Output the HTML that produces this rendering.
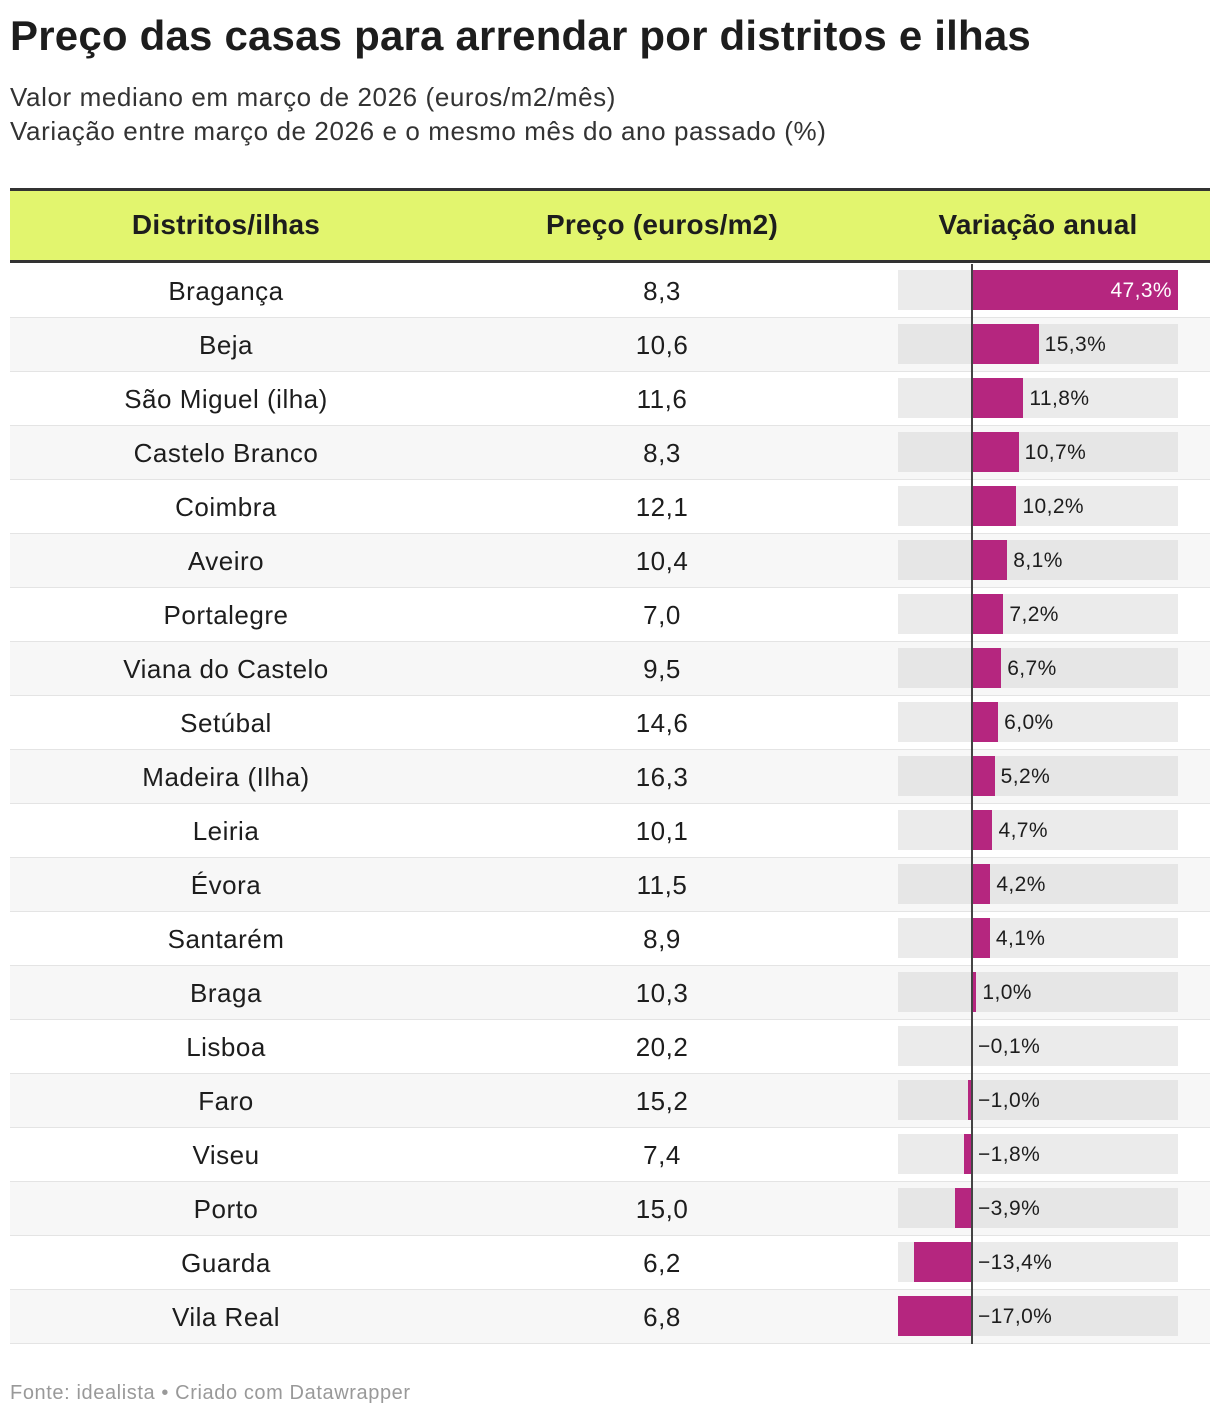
<!DOCTYPE html>
<html><head><meta charset="utf-8"><style>
body{margin:0;width:1220px;height:1418px;background:#fff;font-family:"Liberation Sans",Arial,sans-serif;color:#1d1d1d;position:relative;overflow:hidden}
.t{position:absolute;left:10px;top:12px;font-size:42px;font-weight:bold;letter-spacing:0.2px}
.s{position:absolute;left:10px;font-size:26px;color:#333;letter-spacing:0.6px}
#tbl{position:absolute;left:10px;top:188px;width:1200px}
.hdr{position:absolute;left:0;top:0;width:1200px;height:75px;background:#e2f56e;border-top:3px solid #333;border-bottom:3px solid #333;box-sizing:border-box}
.hdr div{position:absolute;top:18px;font-size:28px;font-weight:bold;transform:translateX(-50%);white-space:nowrap;letter-spacing:0.2px}
.row{position:absolute;left:0;width:1200px;height:54px;border-bottom:1px solid #e4e4e4;box-sizing:border-box}
.cell{position:absolute;top:12px;font-size:26px;transform:translateX(-50%);white-space:nowrap;letter-spacing:0.5px}
.bg{position:absolute;top:6px;height:40px}
.bar{position:absolute;top:6px;height:40px;background:#b5267f}
.lbl{position:absolute;top:15px;font-size:21px;white-space:nowrap;letter-spacing:0.4px}
.foot{position:absolute;left:10px;top:1382px;font-size:20px;color:#999;letter-spacing:0.6px}
</style></head><body>
<div class="t">Preço das casas para arrendar por distritos e ilhas</div>
<div class="s" style="top:82px">Valor mediano em março de 2026 (euros/m2/mês)</div>
<div class="s" style="top:116px">Variação entre março de 2026 e o mesmo mês do ano passado (%)</div>
<div id="tbl">
<div class="hdr">
<div style="left:216px">Distritos/ilhas</div>
<div style="left:652px">Preço (euros/m2)</div>
<div style="left:1028px">Variação anual</div>
</div>
</div>
<div class="foot">Fonte: idealista • Criado com Datawrapper</div>
<script>
const names=["Bragança","Beja","São Miguel (ilha)","Castelo Branco","Coimbra","Aveiro","Portalegre","Viana do Castelo","Setúbal","Madeira (Ilha)","Leiria","Évora","Santarém","Braga","Lisboa","Faro","Viseu","Porto","Guarda","Vila Real"];
const prices=[8.3,10.6,11.6,8.3,12.1,10.4,7.0,9.5,14.6,16.3,10.1,11.5,8.9,10.3,20.2,15.2,7.4,15.0,6.2,6.8];
const variation=[47.3,15.3,11.8,10.7,10.2,8.1,7.2,6.7,6.0,5.2,4.7,4.2,4.1,1.0,-0.1,-1.0,-1.8,-3.9,-13.4,-17.0];
const tbl=document.getElementById('tbl');
const fmt=v=>(v<0?'−':'')+Math.abs(v).toFixed(1).replace('.',',');
const mn=Math.min(0,...variation),mx=Math.max(0,...variation);
const bx0=888,bw=280;
const x=v=>bx0+(v-mn)/(mx-mn)*bw;
const x0=x(0);
names.forEach((n,i)=>{
 const r=document.createElement('div');r.className='row';
 
 
 r.style.top=(76+54*i)+'px';r.style.background=i%2?'#f7f7f7':'#fff';
 const c1=document.createElement('div');c1.className='cell';c1.style.left='216px';c1.textContent=n;
 
 
 const c2=document.createElement('div');c2.className='cell';c2.style.left='652px';c2.textContent=fmt(prices[i]);
 
 
 const bg=document.createElement('div');bg.className='bg';bg.style.left=bx0+'px';bg.style.width=bw+'px';bg.style.background=i%2?'#e6e6e6':'#ebebeb';
 
 
 const v=variation[i];
 const b=document.createElement('div');b.className='bar';
 
 
 b.style.left=Math.min(x(v),x0)+'px';b.style.width=Math.abs(x(v)-x0)+'px';
 const ax=document.createElement('div');ax.style.cssText='position:absolute;top:0;height:54px;width:2px;background:#444;left:'+(x0-1)+'px';
 
 
 const l=document.createElement('div');l.className='lbl';l.textContent=fmt(v)+'%';
 
 
 const end=x(v);
 if(v>0&&end+70>bx0+bw){l.style.right=(1200-end+6)+'px';l.style.color='#fff';}
 else{l.style.left=(Math.max(end,x0)+6)+'px';}
 r.append(c1,c2,bg,b,ax,l);tbl.appendChild(r);
});
</script>
</body></html>
